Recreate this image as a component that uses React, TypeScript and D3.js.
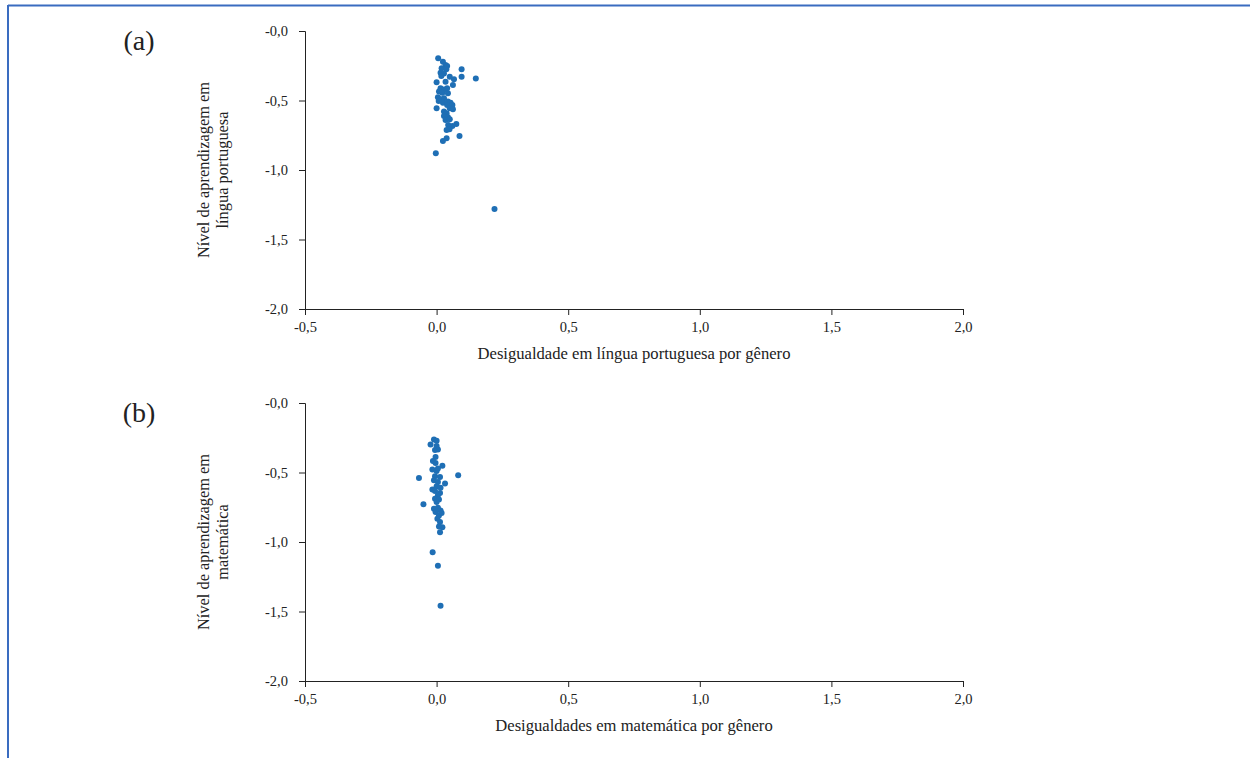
import React, { useEffect, useRef } from "react";
import * as d3 from "d3";

// panel (a): desigualdade em língua portuguesa x nível de aprendizagem
const portX = [
  0.006, 0.024, 0.034, 0.04, 0.019, 0.037, 0.095, 0.015, 0.028, 0.095, 0.149, 0.018, 0.05, 0.066,
  0.0, 0.034, 0.062, 0.015, 0.028, 0.04, 0.009, 0.022, 0.043, 0.005, 0.015, 0.028, 0.008, 0.024,
  0.043, 0.053, 0.0, 0.04, 0.06, 0.05, 0.062, 0.028, 0.038, 0.028, 0.043, 0.034, 0.05, 0.075,
  0.044, 0.06, 0.038, 0.049, 0.087, 0.038, 0.024, -0.003, 0.22,
];
const portY = [
  -0.196, -0.221, -0.245, -0.252, -0.268, -0.276, -0.276, -0.3, -0.305, -0.329, -0.341, -0.324,
  -0.329, -0.347, -0.369, -0.365, -0.388, -0.412, -0.42, -0.412, -0.436, -0.444, -0.448, -0.477,
  -0.491, -0.484, -0.504, -0.516, -0.508, -0.516, -0.556, -0.532, -0.532, -0.556, -0.563, -0.58,
  -0.592, -0.612, -0.621, -0.64, -0.635, -0.669, -0.676, -0.683, -0.712, -0.707, -0.755, -0.772,
  -0.791, -0.88, -1.28,
];

// panel (b): desigualdades em matemática x nível de aprendizagem
const matX = [
  -0.01, 0.0, -0.023, 0.0, -0.006, 0.005, -0.004, -0.014, -0.004, 0.022, -0.016, 0.0, 0.005,
  -0.067, 0.082, -0.006, 0.013, -0.01, 0.005, 0.032, 0.0, -0.016, 0.015, -0.006, 0.013, 0.005,
  -0.006, 0.009, -0.05, 0.0, -0.01, 0.005, 0.015, -0.004, 0.009, 0.019, 0.003, 0.013, 0.022,
  0.009, 0.013, -0.015, 0.005, 0.015,
];
const matY = [
  -0.262, -0.272, -0.298, -0.31, -0.339, -0.334, -0.388, -0.417, -0.431, -0.452, -0.479, -0.489,
  -0.472, -0.539, -0.52, -0.527, -0.532, -0.556, -0.568, -0.58, -0.599, -0.623, -0.609, -0.633,
  -0.648, -0.664, -0.688, -0.695, -0.729, -0.713, -0.76, -0.753, -0.773, -0.785, -0.809, -0.792,
  -0.833, -0.857, -0.893, -0.888, -0.929, -1.074, -1.17, -1.458,
];

const xTicks = [-0.5, 0, 0.5, 1, 1.5, 2];
const yTicks = [0, -0.5, -1, -1.5, -2];

const panels = [
  {
    letter: "(a)",
    xs: portX,
    ys: portY,
    xTitle: "Desigualdade em língua portuguesa por gênero",
    yTitle: ["Nível de aprendizagem em", "língua portuguesa"],
  },
  {
    letter: "(b)",
    xs: matX,
    ys: matY,
    xTitle: "Desigualdades em matemática por gênero",
    yTitle: ["Nível de aprendizagem em", "matemática"],
  },
];

const font = "'Liberation Serif', 'DejaVu Serif', serif";
const fmt = (d: number) => d.toFixed(1).replace(".", ",");

export default function App() {
  const ref = useRef<SVGSVGElement>(null);

  useEffect(() => {
    const svg = d3.select(ref.current);
    svg.selectAll("*").remove();

    // frame (top and left edges only)
    svg.append("line").attr("x1", 8).attr("x2", 1250).attr("y1", 5.5).attr("y2", 5.5)
      .style("stroke", "#3a6cc0").style("stroke-width", 2);
    svg.append("line").attr("x1", 8).attr("x2", 8).attr("y1", 5).attr("y2", 758)
      .style("stroke", "#3a6cc0").style("stroke-width", 2);

    const left = 305;
    const right = 963;
    const tops = [31, 403];
    const plotH = 278;

    panels.forEach((p, i) => {
      const top = tops[i];
      const x = d3.scaleLinear().domain([-0.5, 2]).range([left, right]);
      const y = d3.scaleLinear().domain([-2, 0]).range([top + plotH, top]);

      const g = svg.append("g");

      const yAxis = g.append("g")
        .attr("transform", `translate(${left},0)`)
        .call(d3.axisLeft(y).tickValues(yTicks).tickSize(6).tickPadding(11)
          .tickFormat((d: any) => (d === 0 ? "-0,0" : fmt(d))));
      const xAxis = g.append("g")
        .attr("transform", `translate(0,${top + plotH})`)
        .call(d3.axisBottom(x).tickValues(xTicks).tickSize(6).tickPadding(7)
          .tickFormat((d: any) => fmt(d)));

      [yAxis, xAxis].forEach((a) => {
        a.select(".domain").style("stroke", "#222");
        a.selectAll(".tick line").style("stroke", "#222");
        a.selectAll("text").style("font-family", font).style("font-size", "14.5px").style("fill", "#222");
      });

      g.append("g")
        .selectAll("circle")
        .data(p.xs.map((v, k) => [v, p.ys[k]]))
        .join("circle")
        .attr("cx", (d) => x(d[0]))
        .attr("cy", (d) => y(d[1]))
        .attr("r", 3)
        .style("fill", "#1f6fb5");

      g.append("text")
        .attr("x", 139)
        .attr("y", top + 19)
        .style("font-family", font)
        .style("font-size", "28px")
        .style("fill", "#222")
        .style("text-anchor", "middle")
        .text(p.letter);

      g.append("text")
        .attr("x", 634)
        .attr("y", top + plotH + 50)
        .style("font-family", font)
        .style("font-size", "16.6px")
        .style("fill", "#222")
        .style("text-anchor", "middle")
        .text(p.xTitle);

      const cy = top + plotH / 2;
      p.yTitle.forEach((line, k) => {
        g.append("text")
          .attr("transform", `translate(${209 + k * 19},${cy}) rotate(-90)`)
          .style("font-family", font)
          .style("font-size", "16.4px")
          .style("fill", "#222")
          .style("text-anchor", "middle")
          .text(line);
      });
    });
  }, []);

  return (
    <svg
      ref={ref}
      width={1250}
      height={758}
      style={{ position: "absolute", left: 0, top: 0, background: "#fff" }}
    />
  );
}
